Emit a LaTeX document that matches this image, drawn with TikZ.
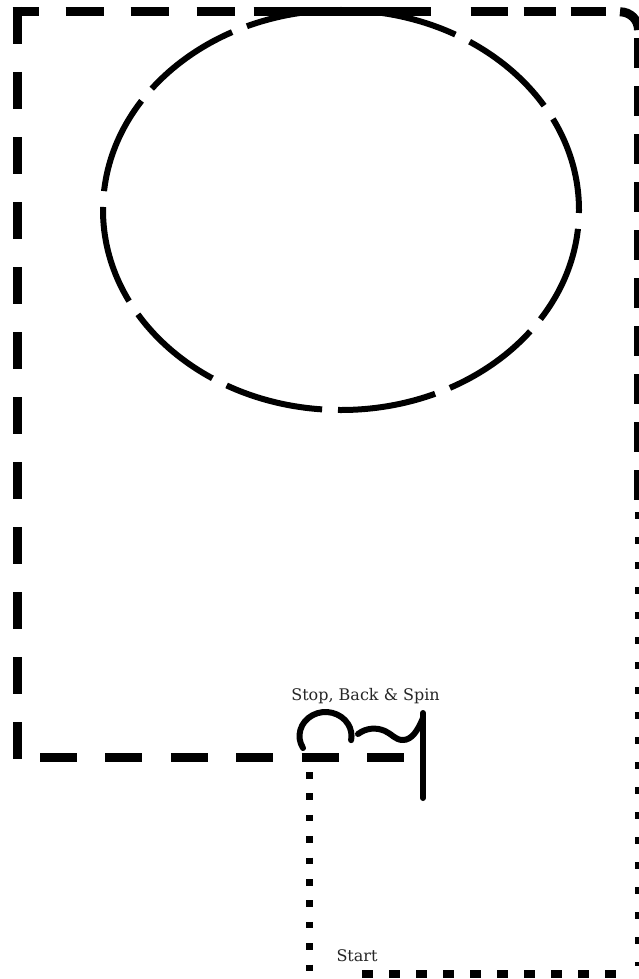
\documentclass[tikz,border=0pt]{standalone}
\usepackage{fontspec}
\newfontfamily\labelfont{DejaVu Serif}
\begin{document}
\begin{tikzpicture}[x=1pt,y=-1pt,
  outline/.style={line width=9pt},
  longdash/.style={outline, dash pattern=on 37pt off 28pt},
  rightdash/.style={outline, dash pattern=on 30pt off 18pt},
  dotv/.style={line width=7pt, dash pattern=on 6.5pt off 14.9pt},
  dotr/.style={line width=8pt, dash pattern=on 7pt off 18pt},
  dotb/.style={line width=8pt, dash pattern=on 11pt off 16pt},
  ovalline/.style={line width=6pt, dash pattern=on 99pt off 15.9pt, dash phase=96pt},
  squig/.style={line width=6pt, line cap=round, line join=round},
  lbl/.style={font=\labelfont\fontsize{16}{18}\selectfont, text=black!85, anchor=base, inner sep=0pt}]
\useasboundingbox (0,0) rectangle (639,979);
\fill[white] (0,0) rectangle (639,979);
% oval
\draw[ovalline] (341,210) ellipse [x radius=238, y radius=200];
% outer dashed frame
\draw[longdash] (17.2,7) -- (17.2,762);
\draw[outline, dash pattern=on 26pt off 27pt on 38pt off 27pt on 38pt off 28pt on 38pt off 19pt on 177pt off 40pt on 37pt off 16pt on 32pt off 15pt on 35pt off 15pt]
  (12.7,11.8) -- (620,11.8);
\draw[outline] (620,11.8) .. controls (630.2,11.8) and (638.5,19.8) .. (638.5,30);
\draw[rightdash] (638.5,38) -- (638.5,500);
\draw[outline, dash pattern=on 37pt off 28.4pt] (40,757.5) -- (405,757.5);
% dotted part
\draw[dotr] (638.5,512) -- (638.5,966);
\draw[dotb] (362,974) -- (618,974);
\draw[dotv] (309.5,772) -- (309.5,972);
% squiggle
\draw[squig] (303,748) arc[start angle=150, end angle=370, x radius=26, y radius=24];
\draw[squig] (358,734) .. controls (366,728) and (376,727) .. (385,731)
  .. controls (392,734) and (395,740) .. (403,740)
  .. controls (412,740) and (418,730) .. (423,718);
\draw[squig] (423,713) -- (423,798);
% labels
\node[lbl] (stoplbl) at (365.5,700) {Stop, Back \& Spin};
\node[lbl] (startlbl) at (357,961) {Start};
\end{tikzpicture}
\end{document}
